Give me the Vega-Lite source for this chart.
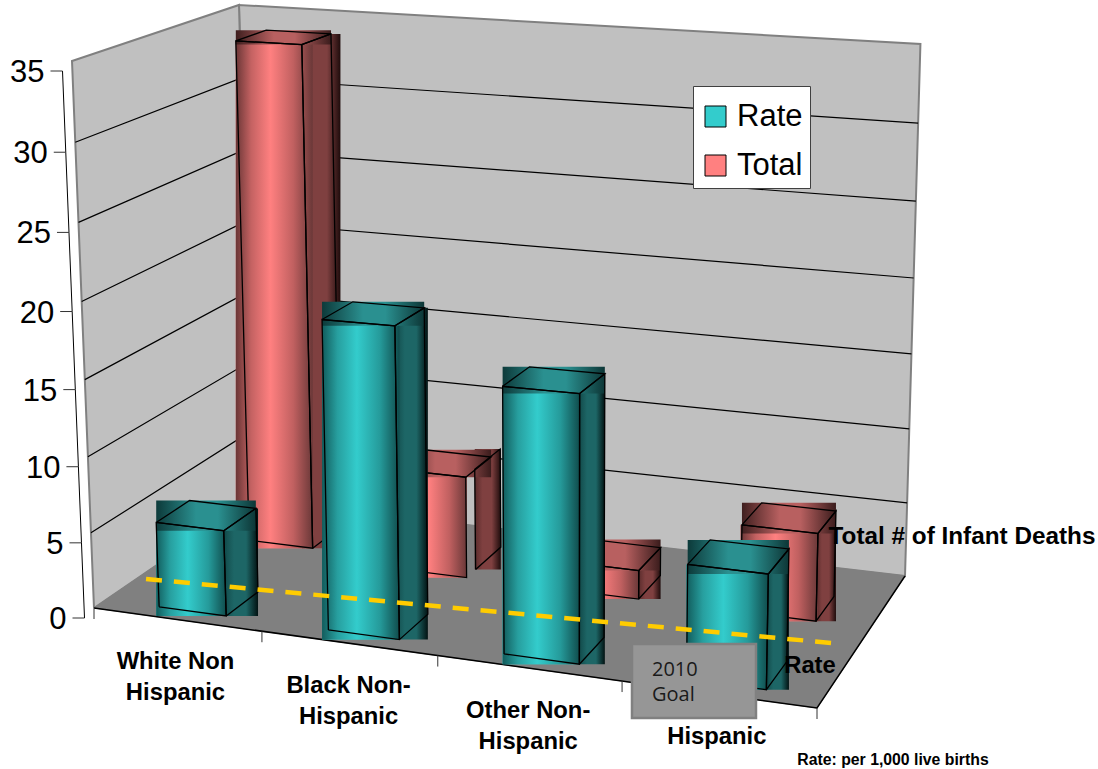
{
  "$schema": "https://vega.github.io/schema/vega-lite/v6.json",
  "width": 1098, "height": 769, "padding": 0,
  "autosize": {"type": "fit", "contains": "padding"},
  "background": "white",
  "view": {"stroke": null},
  "config": {"font": "Liberation Sans", "axis": {"grid": false}},
  "datasets": {
    "bars": [
      {"category": "White Non Hispanic", "series": "Rate", "value": 5.6},
      {"category": "Black Non-Hispanic", "series": "Rate", "value": 19.7},
      {"category": "Other Non-Hispanic", "series": "Rate", "value": 16.6},
      {"category": "Hispanic", "series": "Rate", "value": 7.0},
      {"category": "White Non Hispanic", "series": "Total", "value": 34},
      {"category": "Black Non-Hispanic", "series": "Total", "value": 6.8},
      {"category": "Other Non-Hispanic", "series": "Total", "value": 1.9},
      {"category": "Hispanic", "series": "Total", "value": 5.7}
    ],
    "panels": [
      {"panel": "floor", "o": 0, "u": 0, "w": 0, "t": 0},
      {"panel": "floor", "o": 1, "u": 1, "w": 0, "t": 0},
      {"panel": "floor", "o": 2, "u": 1, "w": 1, "t": 0},
      {"panel": "floor", "o": 3, "u": 0, "w": 1, "t": 0},
      {"panel": "floor", "o": 4, "u": 0, "w": 0, "t": 0},
      {"panel": "side", "o": 0, "u": 0, "w": 0, "t": 0},
      {"panel": "side", "o": 1, "u": 0, "w": 1, "t": 0},
      {"panel": "side", "o": 2, "u": 0, "w": 1, "t": 1},
      {"panel": "side", "o": 3, "u": 0, "w": 0, "t": 1},
      {"panel": "side", "o": 4, "u": 0, "w": 0, "t": 0},
      {"panel": "back", "o": 0, "u": 0, "w": 1, "t": 0},
      {"panel": "back", "o": 1, "u": 1, "w": 1, "t": 0},
      {"panel": "back", "o": 2, "u": 1, "w": 1, "t": 1},
      {"panel": "back", "o": 3, "u": 0, "w": 1, "t": 1},
      {"panel": "back", "o": 4, "u": 0, "w": 1, "t": 0},
      {"panel": "edge", "o": 0, "u": 0, "w": 0, "t": 0},
      {"panel": "edge", "o": 1, "u": 1, "w": 0, "t": 0},
      {"panel": "edge", "o": 2, "u": 1, "w": 1, "t": 0}
    ],
    "valueTicks": [{"tick": 0}, {"tick": 5}, {"tick": 10}, {"tick": 15}, {"tick": 20}, {"tick": 25}, {"tick": 30}, {"tick": 35}],
    "slots": [{"u": 0}, {"u": 0.254}, {"u": 0.505}, {"u": 0.753}, {"u": 1}],
    "categoryLabels": [
      {"label": "White Non\nHispanic", "u": 0.125},
      {"label": "Black Non-\nHispanic", "u": 0.3795},
      {"label": "Other Non-\nHispanic", "u": 0.6285},
      {"label": "Hispanic", "u": 0.875}
    ],
    "goalLine": [
      {"name": "2010 Goal", "o": 0, "u": 0.0128, "w": 0.2557},
      {"name": "2010 Goal", "o": 1, "u": 0.965, "w": 0.4345}
    ],
    "goalBox": [{"label": "2010\nGoal", "u": 0.8367, "w": 0.0627}],
    "notes": [
      {"label": "Rate", "u": 0.959, "w": 0.2603, "size": 23.8},
      {"label": "Total # of Infant Deaths", "u": 1.0413, "w": 1.38, "size": 24.3},
      {"label": "Rate: per 1,000 live births", "u": 1.1185, "w": -0.2408, "size": 15.8}
    ]
  },
  "encoding": {
    "x": {"field": "sx", "type": "quantitative", "axis": null, "scale": {"domain": [0, 1098], "range": [0, 1098], "nice": false, "zero": false}},
    "y": {"field": "sy", "type": "quantitative", "axis": null, "scale": {"domain": [0, 769], "range": [0, 769], "nice": false, "zero": false}}
  },
  "layer": [
    {
      "data": {"name": "panels"},
      "transform": [
        {"calculate": "datum.t", "as": "v"},
        {"calculate": "(631.95*datum.u+188.8*datum.w+94-25.19*datum.v)/(1-0.11145*datum.u+0.12222*datum.w-0.0443*datum.v)", "as": "sx"},
        {"calculate": "(21.1*datum.u-46.89*datum.w+608-549.7*datum.v)/(1-0.11145*datum.u+0.12222*datum.w-0.0443*datum.v)+datum.v*datum.w*(16*datum.u-5.6)", "as": "sy"}
      ],
      "layer": [
        {"transform": [{"filter": "datum.panel=='back'"}], "mark": {"type": "line", "fill": "#C0C0C0", "stroke": "#808080", "strokeWidth": 2}, "encoding": {"order": {"field": "o"}}},
        {"transform": [{"filter": "datum.panel=='side'"}], "mark": {"type": "line", "fill": "#C0C0C0", "stroke": "#808080", "strokeWidth": 2}, "encoding": {"order": {"field": "o"}}},
        {"transform": [{"filter": "datum.panel=='floor'"}], "mark": {"type": "line", "fill": "#808080", "stroke": "#808080", "strokeWidth": 1}, "encoding": {"order": {"field": "o"}}},
        {"transform": [{"filter": "datum.panel=='edge'"}], "mark": {"type": "line", "stroke": "black", "strokeWidth": 1.5}, "encoding": {"order": {"field": "o"}}}
      ]
    },
    {
      "data": {"name": "valueTicks"},
      "transform": [
        {"filter": "datum.tick>0 && datum.tick<35"},
        {"calculate": "datum.tick/35", "as": "v"},
        {"calculate": "[0,1,2]", "as": "k"},
        {"flatten": ["k"]},
        {"calculate": "datum.k==2?1:0", "as": "u"},
        {"calculate": "datum.k==0?0:1", "as": "w"},
        {"calculate": "(631.95*datum.u+188.8*datum.w+94-25.19*datum.v)/(1-0.11145*datum.u+0.12222*datum.w-0.0443*datum.v)", "as": "sx"},
        {"calculate": "(21.1*datum.u-46.89*datum.w+608-549.7*datum.v)/(1-0.11145*datum.u+0.12222*datum.w-0.0443*datum.v)+datum.v*datum.w*(16*datum.u-5.6)", "as": "sy"}
      ],
      "mark": {"type": "line", "stroke": "black", "strokeWidth": 1.2},
      "encoding": {"detail": {"field": "tick"}, "order": {"field": "k"}}
    },
    {
      "data": {"name": "slots"},
      "transform": [
        {"calculate": "(631.95*datum.u+94)/(1-0.11145*datum.u)", "as": "sx"},
        {"calculate": "(21.1*datum.u+608)/(1-0.11145*datum.u)", "as": "sy"},
        {"calculate": "datum.sy+11", "as": "sy2"}
      ],
      "mark": {"type": "rule", "stroke": "#333333", "strokeWidth": 1},
      "encoding": {"y2": {"field": "sy2"}}
    },
    {
      "data": {"name": "valueTicks"},
      "transform": [
        {"calculate": "datum.tick/35", "as": "v"},
        {"calculate": "(94-25.19*datum.v)/(1-0.0443*datum.v)-9.5", "as": "sx"},
        {"calculate": "(608-549.7*datum.v)/(1-0.0443*datum.v)+10", "as": "sy"},
        {"calculate": "datum.sx-12", "as": "sxTick"},
        {"calculate": "datum.sx-18", "as": "sxLabel"}
      ],
      "layer": [
        {"mark": {"type": "line", "stroke": "black", "strokeWidth": 1}, "encoding": {"order": {"field": "tick"}}},
        {"mark": {"type": "rule", "stroke": "#333333", "strokeWidth": 1}, "encoding": {"x2": {"field": "sxTick"}}},
        {"mark": {"type": "text", "align": "right", "baseline": "middle", "fontSize": 31, "fill": "black", "dy": 2}, "encoding": {"x": {"field": "sxLabel", "type": "quantitative"}, "text": {"field": "tick", "type": "quantitative"}}}
      ]
    },
    {
      "data": {"name": "bars"},
      "transform": [
        {"calculate": "[0,1,2,3,4]", "as": "corner"},
        {"calculate": "['side','front','top']", "as": "face"},
        {"flatten": ["corner"]},
        {"flatten": ["face"]},
        {"calculate": "datum.corner%4", "as": "k"},
        {"calculate": "indexof(['White Non Hispanic','Black Non-Hispanic','Other Non-Hispanic','Hispanic'],datum.category)", "as": "slot"},
        {"calculate": "datum.face=='side'?1:((datum.k==1||datum.k==2)?1:0)", "as": "r"},
        {"calculate": "datum.face=='front'?0:(datum.face=='top'?(datum.k>=2?1:0):((datum.k==1||datum.k==2)?1:0))", "as": "b"},
        {"calculate": "datum.face=='top'?1:(datum.k>=2?1:0)", "as": "t"},
        {"calculate": "datum.slot*0.25+0.082+datum.r*0.102+(datum.series=='Rate'?[0,0.003,0.001,-0.006][datum.slot]:[-0.004,0,0,-0.006][datum.slot])", "as": "u"},
        {"calculate": "(datum.series=='Rate'?0.07:(datum.slot==0?0.655:0.575))+datum.b*0.2", "as": "w"},
        {"calculate": "datum.t*datum.value/35", "as": "v"},
        {"calculate": "(631.95*datum.u+188.8*datum.w+94-25.19*datum.v)/(1-0.11145*datum.u+0.12222*datum.w-0.0443*datum.v)+((datum.face=='side'&&datum.slot==1&&datum.series=='Total')?9:0)", "as": "sx"},
        {"calculate": "(21.1*datum.u-46.89*datum.w+608-549.7*datum.v)/(1-0.11145*datum.u+0.12222*datum.w-0.0443*datum.v)+datum.v*datum.w*(16*datum.u-5.6)+((datum.face=='side'&&datum.slot==1&&datum.series=='Total')?-8:0)", "as": "sy"}
      ],
      "layer": [
        {
          "transform": [{"filter": "datum.face=='front'"}, {"aggregate": [{"op": "min", "field": "sx", "as": "x0"}, {"op": "max", "field": "sx", "as": "x1"}, {"op": "min", "field": "sy", "as": "y0"}, {"op": "max", "field": "sy", "as": "y1"}], "groupby": ["category", "series", "face"]}],
          "mark": {"type": "rect"},
          "encoding": {
            "x": {"field": "x0", "type": "quantitative"}, "x2": {"field": "x1"}, "y": {"field": "y0", "type": "quantitative"}, "y2": {"field": "y1"},
            "fill": {"field": "series", "type": "nominal", "scale": {"domain": ["Rate", "Total"], "range": ["#33CCCC", "#FF8080"]},
            "legend": {"title": " ", "titleFontSize": 1, "titlePadding": 7, "orient": "none", "legendX": 693, "legendY": 86, "padding": 7, "fillColor": "white", "strokeColor": "#404040", "symbolType": "square", "symbolSize": 441, "symbolOffset": 0, "labelFontSize": 31, "labelFont": "Liberation Sans", "labelColor": "black", "labelOffset": 6, "rowPadding": 17,
              "encoding": {"symbols": {"fill": {"value": {"expr": "datum.value=='Rate'?{gradient:'linear',x1:0,y1:0,x2:1,y2:0,stops:[{offset:0,color:'#125c5c'},{offset:0.45,color:'#33CCCC'},{offset:1,color:'#104c4c'}]}:{gradient:'linear',x1:0,y1:0,x2:1,y2:0,stops:[{offset:0,color:'#7f4040'},{offset:0.45,color:'#FF8080'},{offset:1,color:'#704040'}]}"}}, "stroke": {"value": "black"}, "strokeWidth": {"value": 1}}}}}
          }
        },
        {
          "transform": [{"filter": "datum.series=='Total'&&datum.face=='side'"}, {"aggregate": [{"op": "min", "field": "sx", "as": "x0"}, {"op": "max", "field": "sx", "as": "x1"}, {"op": "min", "field": "sy", "as": "y0"}, {"op": "max", "field": "sy", "as": "y1"}], "groupby": ["category", "series", "face"]}],
          "mark": {"type": "rect", "fill": {"gradient": "linear", "x1": 0, "y1": 0, "x2": 1, "y2": 0, "stops": [{"offset": 0, "color": "#5a2c2c"}, {"offset": 0.3, "color": "#7f4040"}, {"offset": 0.65, "color": "#7f4040"}, {"offset": 1, "color": "#1f0c0c"}]}},
          "encoding": {"x": {"field": "x0", "type": "quantitative"}, "x2": {"field": "x1"}, "y": {"field": "y0", "type": "quantitative"}, "y2": {"field": "y1"}}
        },
        {
          "transform": [{"filter": "datum.series=='Total'&&datum.face=='front'"}, {"aggregate": [{"op": "min", "field": "sx", "as": "x0"}, {"op": "max", "field": "sx", "as": "x1"}, {"op": "min", "field": "sy", "as": "y0"}, {"op": "max", "field": "sy", "as": "y1"}], "groupby": ["category", "series", "face"]}],
          "mark": {"type": "rect", "fill": {"gradient": "linear", "x1": 0, "y1": 0, "x2": 1, "y2": 0, "stops": [{"offset": 0, "color": "#6a3636"}, {"offset": 0.2, "color": "#c46262"}, {"offset": 0.45, "color": "#FF8080"}, {"offset": 0.75, "color": "#c06060"}, {"offset": 1, "color": "#6a3838"}]}},
          "encoding": {"x": {"field": "x0", "type": "quantitative"}, "x2": {"field": "x1"}, "y": {"field": "y0", "type": "quantitative"}, "y2": {"field": "y1"}}
        },
        {
          "transform": [{"filter": "datum.series=='Total'&&datum.face=='top'"}, {"aggregate": [{"op": "min", "field": "sx", "as": "x0"}, {"op": "max", "field": "sx", "as": "x1"}, {"op": "min", "field": "sy", "as": "y0"}, {"op": "max", "field": "sy", "as": "y1"}], "groupby": ["category", "series", "face"]}],
          "mark": {"type": "rect", "fill": {"gradient": "linear", "x1": 0, "y1": 0, "x2": 1, "y2": 0, "stops": [{"offset": 0, "color": "#3f1f1f"}, {"offset": 0.4, "color": "#b86060"}, {"offset": 0.62, "color": "#b86060"}, {"offset": 1, "color": "#3a1c1c"}]}},
          "encoding": {"x": {"field": "x0", "type": "quantitative"}, "x2": {"field": "x1"}, "y": {"field": "y0", "type": "quantitative"}, "y2": {"field": "y1"}}
        },
        {
          "transform": [{"filter": "datum.series=='Total'"}],
          "mark": {"type": "line", "stroke": "black", "strokeWidth": 1.3},
          "encoding": {"detail": [{"field": "category"}, {"field": "face"}], "order": {"field": "corner"}}
        },
        {
          "transform": [{"filter": "datum.series=='Rate'&&datum.face=='side'"}, {"aggregate": [{"op": "min", "field": "sx", "as": "x0"}, {"op": "max", "field": "sx", "as": "x1"}, {"op": "min", "field": "sy", "as": "y0"}, {"op": "max", "field": "sy", "as": "y1"}], "groupby": ["category", "series", "face"]}],
          "mark": {"type": "rect", "fill": {"gradient": "linear", "x1": 0, "y1": 0, "x2": 1, "y2": 0, "stops": [{"offset": 0, "color": "#124a4a"}, {"offset": 0.3, "color": "#1d6666"}, {"offset": 0.65, "color": "#1d6666"}, {"offset": 1, "color": "#021212"}]}},
          "encoding": {"x": {"field": "x0", "type": "quantitative"}, "x2": {"field": "x1"}, "y": {"field": "y0", "type": "quantitative"}, "y2": {"field": "y1"}}
        },
        {
          "transform": [{"filter": "datum.series=='Rate'&&datum.face=='front'"}, {"aggregate": [{"op": "min", "field": "sx", "as": "x0"}, {"op": "max", "field": "sx", "as": "x1"}, {"op": "min", "field": "sy", "as": "y0"}, {"op": "max", "field": "sy", "as": "y1"}], "groupby": ["category", "series", "face"]}],
          "mark": {"type": "rect", "fill": {"gradient": "linear", "x1": 0, "y1": 0, "x2": 1, "y2": 0, "stops": [{"offset": 0, "color": "#125c5c"}, {"offset": 0.2, "color": "#279f9f"}, {"offset": 0.45, "color": "#33CCCC"}, {"offset": 0.75, "color": "#259a9a"}, {"offset": 1, "color": "#104c4c"}]}},
          "encoding": {"x": {"field": "x0", "type": "quantitative"}, "x2": {"field": "x1"}, "y": {"field": "y0", "type": "quantitative"}, "y2": {"field": "y1"}}
        },
        {
          "transform": [{"filter": "datum.series=='Rate'&&datum.face=='top'"}, {"aggregate": [{"op": "min", "field": "sx", "as": "x0"}, {"op": "max", "field": "sx", "as": "x1"}, {"op": "min", "field": "sy", "as": "y0"}, {"op": "max", "field": "sy", "as": "y1"}], "groupby": ["category", "series", "face"]}],
          "mark": {"type": "rect", "fill": {"gradient": "linear", "x1": 0, "y1": 0, "x2": 1, "y2": 0, "stops": [{"offset": 0, "color": "#0d3a3a"}, {"offset": 0.4, "color": "#2a9090"}, {"offset": 0.62, "color": "#2a9090"}, {"offset": 1, "color": "#0d3636"}]}},
          "encoding": {"x": {"field": "x0", "type": "quantitative"}, "x2": {"field": "x1"}, "y": {"field": "y0", "type": "quantitative"}, "y2": {"field": "y1"}}
        },
        {
          "transform": [{"filter": "datum.series=='Rate'"}],
          "mark": {"type": "line", "stroke": "black", "strokeWidth": 1.3},
          "encoding": {"detail": [{"field": "category"}, {"field": "face"}], "order": {"field": "corner"}}
        }
      ]
    },
    {
      "data": {"name": "goalLine"},
      "transform": [
        {"calculate": "(631.95*datum.u+188.8*datum.w+94)/(1-0.11145*datum.u+0.12222*datum.w)", "as": "sx"},
        {"calculate": "(21.1*datum.u-46.89*datum.w+608)/(1-0.11145*datum.u+0.12222*datum.w)", "as": "sy"}
      ],
      "mark": {"type": "line", "stroke": "#FFCC00", "strokeWidth": 4.5, "strokeDash": [16, 12]},
      "encoding": {"order": {"field": "o"}}
    },
    {
      "data": {"name": "goalBox"},
      "transform": [
        {"calculate": "(631.95*datum.u+188.8*datum.w+94)/(1-0.11145*datum.u+0.12222*datum.w)", "as": "sx"},
        {"calculate": "(21.1*datum.u-46.89*datum.w+608)/(1-0.11145*datum.u+0.12222*datum.w)", "as": "sy"},
        {"calculate": "datum.sx-62", "as": "bx0"},
        {"calculate": "datum.sx+62", "as": "bx1"},
        {"calculate": "datum.sy-37", "as": "by0"},
        {"calculate": "datum.sy+37", "as": "by1"},
        {"calculate": "datum.sx-42", "as": "tx"},
        {"calculate": "datum.sy-5", "as": "ty"}
      ],
      "layer": [
        {"mark": {"type": "rect", "fill": "#969696", "stroke": "#808080", "strokeWidth": 2.5}, "encoding": {"x": {"field": "bx0", "type": "quantitative"}, "x2": {"field": "bx1"}, "y": {"field": "by0", "type": "quantitative"}, "y2": {"field": "by1"}}},
        {"mark": {"type": "text", "align": "left", "baseline": "alphabetic", "font": "Open Sans", "fontSize": 20, "lineBreak": "\n", "lineHeight": 25, "fill": "#1a1a1a"}, "encoding": {"x": {"field": "tx", "type": "quantitative"}, "y": {"field": "ty", "type": "quantitative"}, "text": {"field": "label"}}}
      ]
    },
    {
      "data": {"name": "categoryLabels"},
      "transform": [
        {"calculate": "(631.95*datum.u+94)/(1-0.11145*datum.u)", "as": "sx"},
        {"calculate": "(21.1*datum.u+608)/(1-0.11145*datum.u)+50", "as": "sy"}
      ],
      "mark": {"type": "text", "align": "center", "baseline": "alphabetic", "fontSize": 23.8, "fontWeight": "bold", "lineBreak": "\n", "lineHeight": 31, "fill": "black"},
      "encoding": {"text": {"field": "label"}}
    },
    {
      "data": {"name": "notes"},
      "transform": [
        {"calculate": "(631.95*datum.u+188.8*datum.w+94)/(1-0.11145*datum.u+0.12222*datum.w)", "as": "sx"},
        {"calculate": "(21.1*datum.u-46.89*datum.w+608)/(1-0.11145*datum.u+0.12222*datum.w)", "as": "sy"}
      ],
      "mark": {"type": "text", "align": "center", "baseline": "middle", "fontWeight": "bold", "fill": "black"},
      "encoding": {"text": {"field": "label"}, "size": {"field": "size", "type": "quantitative", "scale": null}}
    }
  ]
}
